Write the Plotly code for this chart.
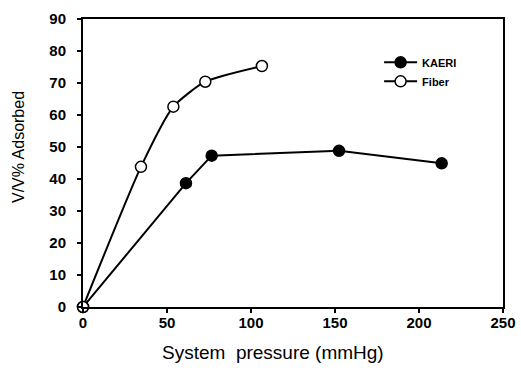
import plotly.graph_objects as go

kaeri_x = [0, 61.3, 76.6, 152.4, 213.5]
kaeri_y = [0, 38.7, 47.3, 48.8, 44.9]
fiber_x = [0, 34.5, 53.8, 72.8, 106.5]
fiber_y = [0, 43.8, 62.6, 70.4, 75.3]

x_ticks = [0, 50, 100, 150, 200, 250]
y_ticks = [0, 10, 20, 30, 40, 50, 60, 70, 80, 90]
x_title = "System  pressure (mmHg)"
y_title = "V/V% Adsorbed"

fig = go.Figure()
fig.add_trace(go.Scatter(
    x=kaeri_x, y=kaeri_y, name="KAERI", mode="lines+markers",
    line=dict(color="black", width=2),
    marker=dict(symbol="circle", size=11, color="black", line=dict(color="black", width=1.5)),
    cliponaxis=False,
))
fig.add_trace(go.Scatter(
    x=fiber_x, y=fiber_y, name="Fiber", mode="lines+markers",
    line=dict(color="black", width=2, shape="spline", smoothing=0.6),
    marker=dict(symbol="circle", size=11, color="white", line=dict(color="black", width=1.5)),
    cliponaxis=False,
))

axis_font = dict(family="Liberation Sans, Arial", size=15, color="black", weight="bold")
fig.update_layout(
    width=521, height=383,
    margin=dict(l=83, r=18, t=19, b=76, autoexpand=False),
    paper_bgcolor="white", plot_bgcolor="white",
    showlegend=True,
    legend=dict(x=0.705, y=0.9, xanchor="left", yanchor="top",
                font=dict(family="Liberation Sans, Arial", size=11, color="black", weight="bold"),
                bgcolor="rgba(0,0,0,0)", itemwidth=33, tracegroupgap=0),
    xaxis=dict(range=[0, 250], tickvals=x_ticks, ticks="outside", ticklen=4, tickwidth=1.5,
               tickcolor="black", showline=True, linecolor="black", linewidth=2, mirror=True,
               showgrid=False, zeroline=False, tickfont=axis_font, ticklabelstandoff=-3,
               automargin=False),
    yaxis=dict(range=[0, 90], tickvals=y_ticks, ticks="outside", ticklen=4, tickwidth=1.5,
               tickcolor="black", showline=True, linecolor="black", linewidth=2, mirror=True,
               showgrid=False, zeroline=False, tickfont=axis_font, ticklabelstandoff=8,
               automargin=False),
    annotations=[
        dict(text=x_title, xref="paper", yref="paper", x=(273 - 83) / 420, y=-(352 - 307) / 288,
             xanchor="center", yanchor="middle", showarrow=False,
             font=dict(family="Liberation Sans, Arial", size=19, color="black")),
        dict(text=y_title, xref="paper", yref="paper", x=-(83 - 18) / 420, y=(307 - 147) / 288,
             xanchor="center", yanchor="middle", showarrow=False, textangle=-90,
             font=dict(family="Liberation Sans, Arial", size=16, color="black")),
    ],
)

fig.write_html("out.html")
